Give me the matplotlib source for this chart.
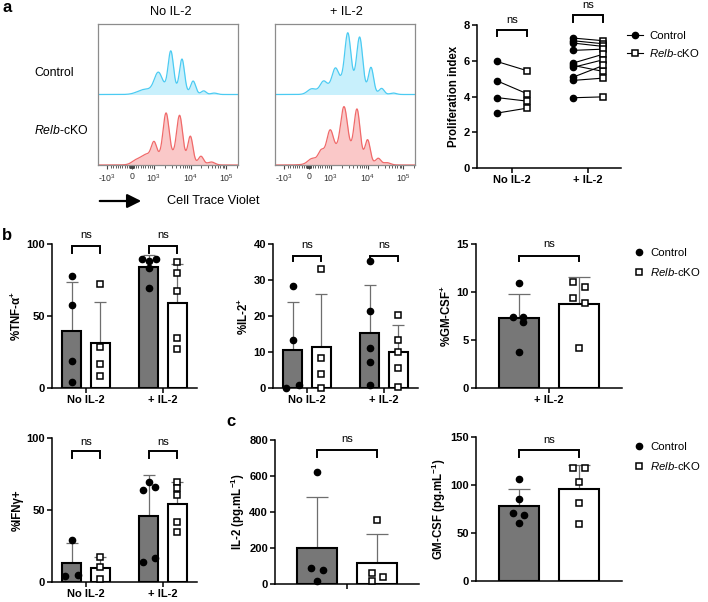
import numpy as np
import matplotlib
matplotlib.use("Agg")
import matplotlib.pyplot as plt
from matplotlib.lines import Line2D
from matplotlib.patches import FancyArrowPatch

plt.rcParams['font.family'] = ['Liberation Sans', 'DejaVu Sans']
plt.rcParams['mathtext.fontset'] = 'custom'
plt.rcParams['mathtext.rm'] = 'Liberation Sans'
plt.rcParams['mathtext.it'] = 'Liberation Sans:italic'
plt.rcParams['mathtext.bf'] = 'Liberation Sans:bold'
plt.rcParams['axes.linewidth'] = 1.1

W, H = 708, 602

# ---------------- data ----------------
groups = ["No IL-2", "+ IL-2"]
hist_ticklabels = [r"-10$^3$", "0", r"10$^3$", r"10$^4$", r"10$^5$"]

# a) CTV histograms, peaks as (position on axis 0-1, height, width)
ctv_ctrl_noil2 = [(0.50, 0.08, 0.09), (0.33, 0.06, 0.05), (0.43, 0.25, 0.028), (0.52, 0.54, 0.019),
                  (0.60, 0.46, 0.018), (0.68, 0.18, 0.018), (0.755, 0.05, 0.018), (0.83, 0.02, 0.022)]
ctv_ko_noil2 = [(0.50, 0.14, 0.11), (0.27, 0.05, 0.03), (0.34, 0.10, 0.035), (0.40, 0.22, 0.019),
                (0.486, 0.60, 0.021), (0.583, 0.60, 0.021), (0.66, 0.36, 0.018), (0.736, 0.11, 0.018),
                (0.81, 0.04, 0.025)]
ctv_ctrl_il2 = [(0.50, 0.20, 0.10), (0.262, 0.07, 0.03), (0.345, 0.13, 0.024), (0.43, 0.22, 0.022),
                (0.52, 0.68, 0.021), (0.605, 0.70, 0.021), (0.686, 0.35, 0.018), (0.762, 0.08, 0.018),
                (0.845, 0.02, 0.022)]
ctv_ko_il2 = [(0.48, 0.23, 0.11), (0.262, 0.06, 0.028), (0.329, 0.12, 0.02), (0.393, 0.33, 0.023),
              (0.493, 0.60, 0.024), (0.586, 0.65, 0.021), (0.662, 0.30, 0.018), (0.738, 0.08, 0.018),
              (0.80, 0.03, 0.025)]

# a) proliferation index, paired control -> cKO
prolif_ctrl_noil2 = [5.96, 4.88, 3.94, 3.07]
prolif_ko_noil2 = [5.44, 4.15, 3.74, 3.35]
prolif_ctrl_il2 = [7.27, 7.12, 6.99, 6.58, 5.87, 5.74, 5.63, 5.08, 4.90, 3.93]
prolif_ko_il2 = [7.12, 6.95, 6.80, 6.65, 6.37, 5.40, 6.06, 5.74, 5.03, 3.98]

# b) % cytokine+ cells
tnf_ctrl_noil2 = [77.7, 57.5, 18.6, 4.2]
tnf_ko_noil2 = [71.9, 28.5, 16.5, 8.4]
tnf_ctrl_il2 = [89.3, 88.0, 89.5, 83.0, 69.6]
tnf_ko_il2 = [87.7, 79.6, 67.5, 35.0, 26.9]

il2_ctrl_noil2 = [28.2, 13.2, 0.9, 0.1]
il2_ko_noil2 = [33.0, 8.4, 3.9, 0.0]
il2_ctrl_il2 = [35.3, 21.3, 11.2, 7.2, 0.8]
il2_ko_il2 = [20.2, 13.3, 10.0, 5.6, 0.3]

gm_ctrl_il2 = [10.92, 7.43, 7.43, 6.9, 3.77]
gm_ko_il2 = [11.02, 10.57, 9.42, 8.82, 4.12]

ifn_ctrl_noil2 = [29.5, 4.3, 4.9]
ifn_ko_noil2 = [17.2, 10.4, 1.8]
ifn_ctrl_il2 = [63.9, 69.7, 65.8, 14.1, 16.4]
ifn_ko_il2 = [69.7, 65.1, 60.4, 41.9, 34.9]

# c) secreted cytokine (pg/mL)
il2_sec_ctrl = [625, 87, 77, 15]
il2_sec_ko = [355, 62, 40, 15]
gm_sec_ctrl = [106, 85.2, 71.0, 68.6, 60.0]
gm_sec_ko = [117.8, 117.8, 103.2, 81.4, 58.9]

# horizontal spread of overlapping dots (layout only)
jit_tnf_ctrl_il2 = [-0.09, 0, 0.09, 0, 0]
jit_il2_ctrl_noil2 = [0, 0, 0.08, -0.08]
jit_gm_ctrl = [0, -0.1, 0.07, 0.08, 0]
jit_gm_ko = [-0.1, 0.09, -0.1, 0.09, 0]
jit_ifn_ctrl_noil2 = [0, -0.08, 0.08]
jit_ifn_ctrl_il2 = [-0.08, 0, 0.08, -0.08, 0.08]
jit_il2_sec_ctrl = [0, -0.1, 0.1, 0]
jit_il2_sec_ko = [0, -0.09, 0.1, -0.09]
jit_gm_sec_ctrl = [0, 0, -0.1, 0.09, 0]
jit_gm_sec_ko = [-0.1, 0.09, 0, 0, 0]

TICK_FS = 8
LAB_FS = 8.3
LEG_FS = 8.2


def rect(x0, y0, x1, y1):
    return [x0 / W, 1 - y1 / H, (x1 - x0) / W, (y1 - y0) / H]


def ctv_curve(x, peaks):
    y = np.zeros_like(x)
    for c, h, w in peaks:
        y += h * np.exp(-0.5 * ((x - c) / w) ** 2)
    return y


def style(ax):
    ax.spines[['top', 'right']].set_visible(False)
    ax.tick_params(width=1.1, length=3.5, labelsize=TICK_FS, pad=1.5)
    plt.setp(ax.get_yticklabels(), fontweight='bold')
    plt.setp(ax.get_xticklabels(), fontweight='bold')


def ns(ax, x1, x2, y, y_leg, y_txt):
    ax.plot([x1, x1, x2, x2], [y_leg, y, y, y_leg], color='black', lw=1.4, clip_on=False,
            solid_joinstyle='miter')
    ax.text((x1 + x2) / 2, y_txt, "ns", ha='center', va='center', fontsize=8)


def bars(ax, pos, off, width, cap, ctrl_sets, ko_sets, ctrl_jit=None, ko_jit=None):
    for i, x0 in enumerate(pos):
        cj = ctrl_jit[i] if ctrl_jit and ctrl_jit[i] else [0] * len(ctrl_sets[i])
        kj = ko_jit[i] if ko_jit and ko_jit[i] else [0] * len(ko_sets[i])
        for vals, jit, x, fc, mk in ((ctrl_sets[i], cj, x0 - off, '#777777', 'o'),
                                     (ko_sets[i], kj, x0 + off, 'white', 's')):
            m = np.mean(vals)
            sd = np.std(vals, ddof=1)
            ax.bar(x, m, width, color=fc, edgecolor='black', linewidth=1.5, zorder=2)
            ax.errorbar(x, m, yerr=[[0], [sd]], color='#6e6e6e', lw=0.9, capsize=cap,
                        capthick=0.9, zorder=1.5)
            xs = x + np.array(jit)
            if mk == 'o':
                ax.plot(xs, vals, 'o', color='black', ms=4.5, zorder=3, clip_on=False)
            else:
                ax.plot(xs, vals, 's', mfc='white', mec='black', mew=1.1, ms=4.6, zorder=3,
                        clip_on=False)


fig = plt.figure(figsize=(W / 100, H / 100), dpi=100)

# ---------------- a: histograms ----------------
x = np.linspace(0, 1, 800)
major_pos = [0.067, 0.24, 0.40, 0.662, 0.914]
minor_pos = ([0.40 + 0.262 * np.log10(k) for k in range(2, 10)] +
             [0.662 + 0.252 * np.log10(k) for k in range(2, 10)] +
             [0.914 + 0.252 * np.log10(2)] +
             [0.24 + 0.0164 * k for k in range(-9, 10) if k != 0] +
             [0.24 + 0.00164 * k for k in range(-9, 10) if k != 0])
for r, ctrl_pk, ko_pk, title, tx in ((rect(98, 24, 238, 165), ctv_ctrl_noil2, ctv_ko_noil2, groups[0], 171),
                                     (rect(275, 24, 415, 165), ctv_ctrl_il2, ctv_ko_il2, groups[1], 346)):
    ax = fig.add_axes(r)
    yc = ctv_curve(x, ctrl_pk)
    yk = ctv_curve(x, ko_pk)
    ax.fill_between(x, 1, 1 + yc, color='#c8f0fc', lw=0)
    ax.plot(x, 1 + yc, color='#4ccbf2', lw=0.9)
    ax.fill_between(x, 0, yk, color='#fac8c8', lw=0)
    ax.plot(x, yk, color='#f06a6a', lw=0.9)
    ax.set_xlim(0, 1)
    ax.set_ylim(0, 2)
    ax.set_yticks([])
    ax.set_xticks(major_pos)
    ax.set_xticklabels(hist_ticklabels, fontsize=6.3, color='#333333')
    ax.set_xticks(minor_pos, minor=True)
    ax.tick_params(axis='x', which='major', length=3, width=0.8, color='#444444', pad=2)
    ax.tick_params(axis='x', which='minor', length=1.8, width=0.6, color='#444444')
    for s in ax.spines.values():
        s.set_color('#8c8c8c')
        s.set_linewidth(0.9)
    fig.text(tx / W, 1 - 12 / H, title, ha='center', va='center', fontsize=9.2)

fig.text(34 / W, 1 - 73 / H, "Control", ha='left', va='center', fontsize=8.8)
fig.text(34 / W, 1 - 131 / H, r"$\it{Relb}$-cKO", ha='left', va='center', fontsize=8.8)
fig.add_artist(FancyArrowPatch((97 / W, 1 - 201 / H), (144 / W, 1 - 201 / H), transform=fig.transFigure,
                               arrowstyle='-|>,head_length=0.7,head_width=0.35', mutation_scale=12,
                               lw=1.6, color='black'))
fig.text(167 / W, 1 - 201 / H, "Cell Trace Violet", ha='left', va='center', fontsize=9.2)

# ---------------- a: proliferation index ----------------
ax = fig.add_axes(rect(477, 25, 621, 168))
for i, (cs, ks) in enumerate(((prolif_ctrl_noil2, prolif_ko_noil2), (prolif_ctrl_il2, prolif_ko_il2))):
    for c, k in zip(cs, ks):
        ax.plot([i - 0.2, i + 0.2], [c, k], color='black', lw=0.8, zorder=1)
    ax.plot([i - 0.2] * len(cs), cs, 'o', color='black', ms=4.5, zorder=3)
    ax.plot([i + 0.2] * len(ks), ks, 's', mfc='white', mec='black', mew=1.1, ms=4.8, zorder=3)
ax.set_xlim(-0.46, 1.43)
ax.set_ylim(0, 8)
ax.set_yticks([0, 2, 4, 6, 8])
ax.set_xticks([0, 1])
ax.set_xticklabels(groups)
ax.set_ylabel("Proliferation index", fontsize=LAB_FS, fontweight='bold', labelpad=3)
style(ax)
ns(ax, -0.2, 0.2, 7.72, 7.39, 8.28)
ns(ax, 0.8, 1.2, 8.56, 8.18, 9.12)
h1 = Line2D([0], [0], color='black', lw=0.8, marker='o', ms=4.5)
h2 = Line2D([0], [0], color='black', lw=0.8, marker='s', mfc='white', mec='black', mew=1.1, ms=4.8)
fig.legend([h1, h2], ["Control", r"$\it{Relb}$-cKO"], loc='center left',
           bbox_to_anchor=(617 / W, 1 - 45 / H), frameon=False, fontsize=LEG_FS,
           handlelength=1.4, handletextpad=0.5, labelspacing=0.6)

# ---------------- b ----------------
two = dict(pos=[0, 1], off=0.185, width=0.245, cap=4.5)
one = dict(pos=[0], off=0.5, width=0.66, cap=8)

ax = fig.add_axes(rect(52, 244, 197, 388))
bars(ax, ctrl_sets=[tnf_ctrl_noil2, tnf_ctrl_il2], ko_sets=[tnf_ko_noil2, tnf_ko_il2],
     ctrl_jit=[None, jit_tnf_ctrl_il2], **two)
ax.set_xlim(-0.44, 1.44)
ax.set_ylim(0, 100)
ax.set_yticks([0, 50, 100])
ax.set_xticks([0, 1])
ax.set_xticklabels(groups)
ax.set_ylabel(r"%TNF-α$^{\mathbf{+}}$", fontsize=LAB_FS, fontweight='bold', labelpad=2)
style(ax)
ns(ax, -0.185, 0.185, 98.6, 93.5, 106)
ns(ax, 0.815, 1.185, 98.6, 93.5, 106)

ax = fig.add_axes(rect(273, 244, 418, 388))
bars(ax, ctrl_sets=[il2_ctrl_noil2, il2_ctrl_il2], ko_sets=[il2_ko_noil2, il2_ko_il2],
     ctrl_jit=[jit_il2_ctrl_noil2, None], **two)
ax.set_xlim(-0.44, 1.44)
ax.set_ylim(0, 40)
ax.set_yticks([0, 10, 20, 30, 40])
ax.set_xticks([0, 1])
ax.set_xticklabels(groups)
ax.set_ylabel(r"%IL-2$^{\mathbf{+}}$", fontsize=LAB_FS, fontweight='bold', labelpad=2)
style(ax)
ns(ax, -0.185, 0.185, 36.7, 35.3, 39.7)
ns(ax, 0.815, 1.185, 36.7, 35.3, 39.7)

ax = fig.add_axes(rect(476, 244, 622, 388))
bars(ax, ctrl_sets=[gm_ctrl_il2], ko_sets=[gm_ko_il2], ctrl_jit=[jit_gm_ctrl], ko_jit=[jit_gm_ko], **one)
ax.set_xlim(-1.2, 1.2)
ax.set_ylim(0, 15)
ax.set_yticks([0, 5, 10, 15])
ax.set_xticks([0])
ax.set_xticklabels([groups[1]])
ax.set_ylabel(r"%GM-CSF$^{\mathbf{+}}$", fontsize=LAB_FS, fontweight='bold', labelpad=2)
style(ax)
ns(ax, -0.5, 0.5, 13.8, 13.25, 15.0)

m1 = Line2D([0], [0], ls='none', marker='o', color='black', ms=4.5)
m2 = Line2D([0], [0], ls='none', marker='s', mfc='white', mec='black', mew=1.1, ms=4.6)
fig.legend([m1, m2], ["Control", r"$\it{Relb}$-cKO"], loc='center left',
           bbox_to_anchor=(623 / W, 1 - 263 / H), frameon=False, fontsize=LEG_FS,
           handlelength=1.0, handletextpad=0.5, labelspacing=0.65)

ax = fig.add_axes(rect(52, 438, 197, 582))
bars(ax, ctrl_sets=[ifn_ctrl_noil2, ifn_ctrl_il2], ko_sets=[ifn_ko_noil2, ifn_ko_il2],
     ctrl_jit=[jit_ifn_ctrl_noil2, jit_ifn_ctrl_il2], **two)
ax.set_xlim(-0.44, 1.44)
ax.set_ylim(0, 100)
ax.set_yticks([0, 50, 100])
ax.set_xticks([0, 1])
ax.set_xticklabels(groups)
ax.set_ylabel("%IFNγ+", fontsize=LAB_FS, fontweight='bold', labelpad=2)
style(ax)
ns(ax, -0.185, 0.185, 90.7, 86, 97.2)
ns(ax, 0.815, 1.185, 90.7, 86, 97.2)

# ---------------- c ----------------
ax = fig.add_axes(rect(275, 440, 419, 584))
bars(ax, ctrl_sets=[il2_sec_ctrl], ko_sets=[il2_sec_ko], ctrl_jit=[jit_il2_sec_ctrl],
     ko_jit=[jit_il2_sec_ko], **one)
ax.set_xlim(-1.2, 1.2)
ax.set_ylim(0, 800)
ax.set_yticks([0, 200, 400, 600, 800])
ax.set_xticks([0])
ax.set_xticklabels([""])
ax.set_ylabel(r"IL-2 (pg.mL$^{\mathbf{-1}}$)", fontsize=LAB_FS, fontweight='bold', labelpad=2)
style(ax)
ns(ax, -0.5, 0.5, 744, 707, 804)

ax = fig.add_axes(rect(476, 437, 622, 581))
bars(ax, ctrl_sets=[gm_sec_ctrl], ko_sets=[gm_sec_ko], ctrl_jit=[jit_gm_sec_ctrl],
     ko_jit=[jit_gm_sec_ko], **one)
ax.set_xlim(-1.2, 1.2)
ax.set_ylim(0, 150)
ax.set_yticks([0, 50, 100, 150])
ax.set_xticks([])
ax.set_ylabel(r"GM-CSF (pg.mL$^{\mathbf{-1}}$)", fontsize=LAB_FS, fontweight='bold', labelpad=2)
style(ax)
ns(ax, -0.5, 0.5, 136, 129, 147)

fig.legend([m1, m2], ["Control", r"$\it{Relb}$-cKO"], loc='center left',
           bbox_to_anchor=(623 / W, 1 - 457 / H), frameon=False, fontsize=LEG_FS,
           handlelength=1.0, handletextpad=0.5, labelspacing=0.65)

# panel letters
fig.text(7 / W, 1 - 8 / H, "a", ha='center', va='center', fontsize=12, fontweight='bold')
fig.text(7 / W, 1 - 236 / H, "b", ha='center', va='center', fontsize=12, fontweight='bold')
fig.text(231 / W, 1 - 421 / H, "c", ha='center', va='center', fontsize=12, fontweight='bold')

fig.savefig("out.png", dpi=100)
